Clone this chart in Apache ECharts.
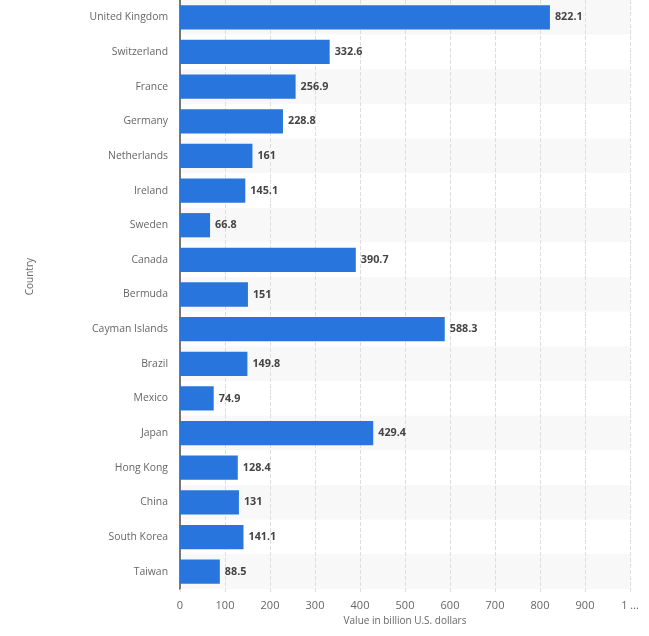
<!DOCTYPE html>
<html><head><meta charset="utf-8">
<script src="https://cdn.jsdelivr.net/npm/echarts@6/dist/echarts.min.js"></script>
<style>html,body{margin:0;padding:0;background:#fff}#c{width:649px;height:636px}</style>
</head><body><div id="c"></div>
<script>
const countries = ['United Kingdom','Switzerland','France','Germany','Netherlands','Ireland','Sweden','Canada','Bermuda','Cayman Islands','Brazil','Mexico','Japan','Hong Kong','China','South Korea','Taiwan'];
const values = [822.1,332.6,256.9,228.8,161,145.1,66.8,390.7,151,588.3,149.8,74.9,429.4,128.4,131,141.1,88.5];
const xTickLabels = ['0','100','200','300','400','500','600','700','800','900','1 …'];
const chart = echarts.init(document.getElementById('c'));
const font = "'Open Sans', sans-serif";
chart.setOption({
  animation:false,
  grid:{left:180,right:19,top:0,bottom:47,containLabel:false},
  graphic:[{type:'text',left:25,top:258,rotation:Math.PI/2,
    style:{text:'Country',fill:'#666',fontSize:10,fontFamily:font}}],
  xAxis:{type:'value',min:0,max:1000,interval:100,
    name:'Value in billion U.S. dollars',nameLocation:'middle',nameGap:24,
    nameTextStyle:{color:'#666',fontSize:10,fontFamily:font},
    axisLine:{show:false},axisTick:{show:true,length:3,lineStyle:{color:'#ddd'}},
    axisLabel:{color:'#666',fontSize:11,fontFamily:font,margin:11,formatter:(v,i)=>xTickLabels[Math.round(v/100)]},
    splitLine:{show:true,lineStyle:{color:'#ddd',type:'dashed'}}},
  yAxis:{type:'category',data:countries,inverse:true,
    axisLine:{show:true,lineStyle:{color:'#777',width:2}},axisTick:{show:false},
    axisLabel:{color:'#666',fontSize:10.4,fontFamily:font,margin:12},
    splitArea:{show:true,areaStyle:{color:['#f8f8f8','#ffffff']}}},
  series:[{type:'bar',data:values,barWidth:'70%',itemStyle:{color:'#2876dd'},
    label:{show:true,position:'right',distance:5,color:'#444',fontWeight:'bold',fontSize:10.8,fontFamily:font}}]
});
</script></body></html>
